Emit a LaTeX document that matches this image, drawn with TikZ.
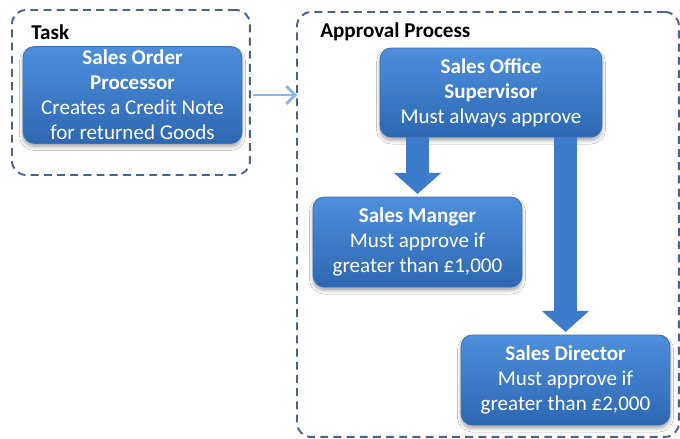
\documentclass[tikz,border=0pt]{standalone}
\usepackage{fontspec}
\setmainfont{Carlito}
\usepackage{tikz}
\usetikzlibrary{positioning,arrows.meta,calc,shadows.blur}
\definecolor{frame}{HTML}{46648C}
\definecolor{boxtop}{HTML}{4D8FDC}
\definecolor{boxbot}{HTML}{2E67B1}
\definecolor{boxedge}{HTML}{3B70B6}
\definecolor{fatblue}{HTML}{3C7ACA}
\definecolor{linkblue}{HTML}{8DB4E2}
\tikzset{
  soft shadow/.style={blur shadow={shadow blur steps=6, shadow xshift=0pt,
    shadow yshift=-2pt, shadow blur radius=2pt, shadow opacity=35}},
  role/.style={rounded corners=6.5pt, top color=boxtop, bottom color=boxbot, draw=boxedge,
    line width=0.5pt, text=white, align=center, minimum width=#1, minimum height=1.8cm,
    inner sep=2pt, font=\fontsize{12}{14.2}\selectfont, soft shadow},
  role/.default=4.18cm,
  grp/.style={draw=frame, dash pattern=on 4.5pt off 3pt, line width=1.1pt,
    rounded corners=8pt, inner sep=0pt, outer sep=0pt, anchor=north west},
  grplab/.style={font=\fontsize{12}{14}\selectfont\bfseries, text=black, anchor=west, inner sep=0pt},
  hop/.style={-{Straight Barb[length=5pt,width=10pt,line width=1.6pt]}, line width=1.7pt, color=linkblue},
  fat/.style={-{Triangle[length=0.42cm,width=0.92cm]}, line width=0.46cm, color=fatblue},
}

\begin{document}
\begin{tikzpicture}[x=0.02cm,y=-0.02cm]
  \useasboundingbox[fill=white] (0,0) rectangle (680,439);

  % the two dashed groups
  \node[grp, minimum width=4.76cm, minimum height=3.3cm] (task) at (12,10) {};
  \node[grp, minimum width=7.64cm, minimum height=8.5cm] (appr) at (297,12) {};
  \node[grplab] (tasklab) at (31,32) {Task};
  \node[grplab] (apprlab) at (320,32) {Approval Process};

  % people
  \node[role=4.38cm] (proc) at (132.5,95)
    {\textbf{Sales Order}\\\textbf{Processor}\\Creates a Credit Note\\for returned Goods};
  \node[role=4.44cm, minimum height=1.78cm] (sup) at (491,92.5)
    {\textbf{Sales Office}\\\textbf{Supervisor}\\Must always approve};
  \node[role] (mgr) at (417.5,242)
    {\textbf{Sales Manger}\\Must approve if\\greater than £1,000};
  \node[role] (dir) at (565.5,380)
    {\textbf{Sales Director}\\Must approve if\\greater than £2,000};

  % approvals flow down from the supervisor
  \draw[fat, shorten >=1.5pt] (sup.south -| mgr.north) -- (mgr.north);
  \draw[fat, shorten >=1.5pt] (sup.south -| dir.north) -- (dir.north);

  \draw[hop, shorten <=1.7pt] (task.east |- proc.center) -- (appr.west |- proc.center);
\end{tikzpicture}
\end{document}
